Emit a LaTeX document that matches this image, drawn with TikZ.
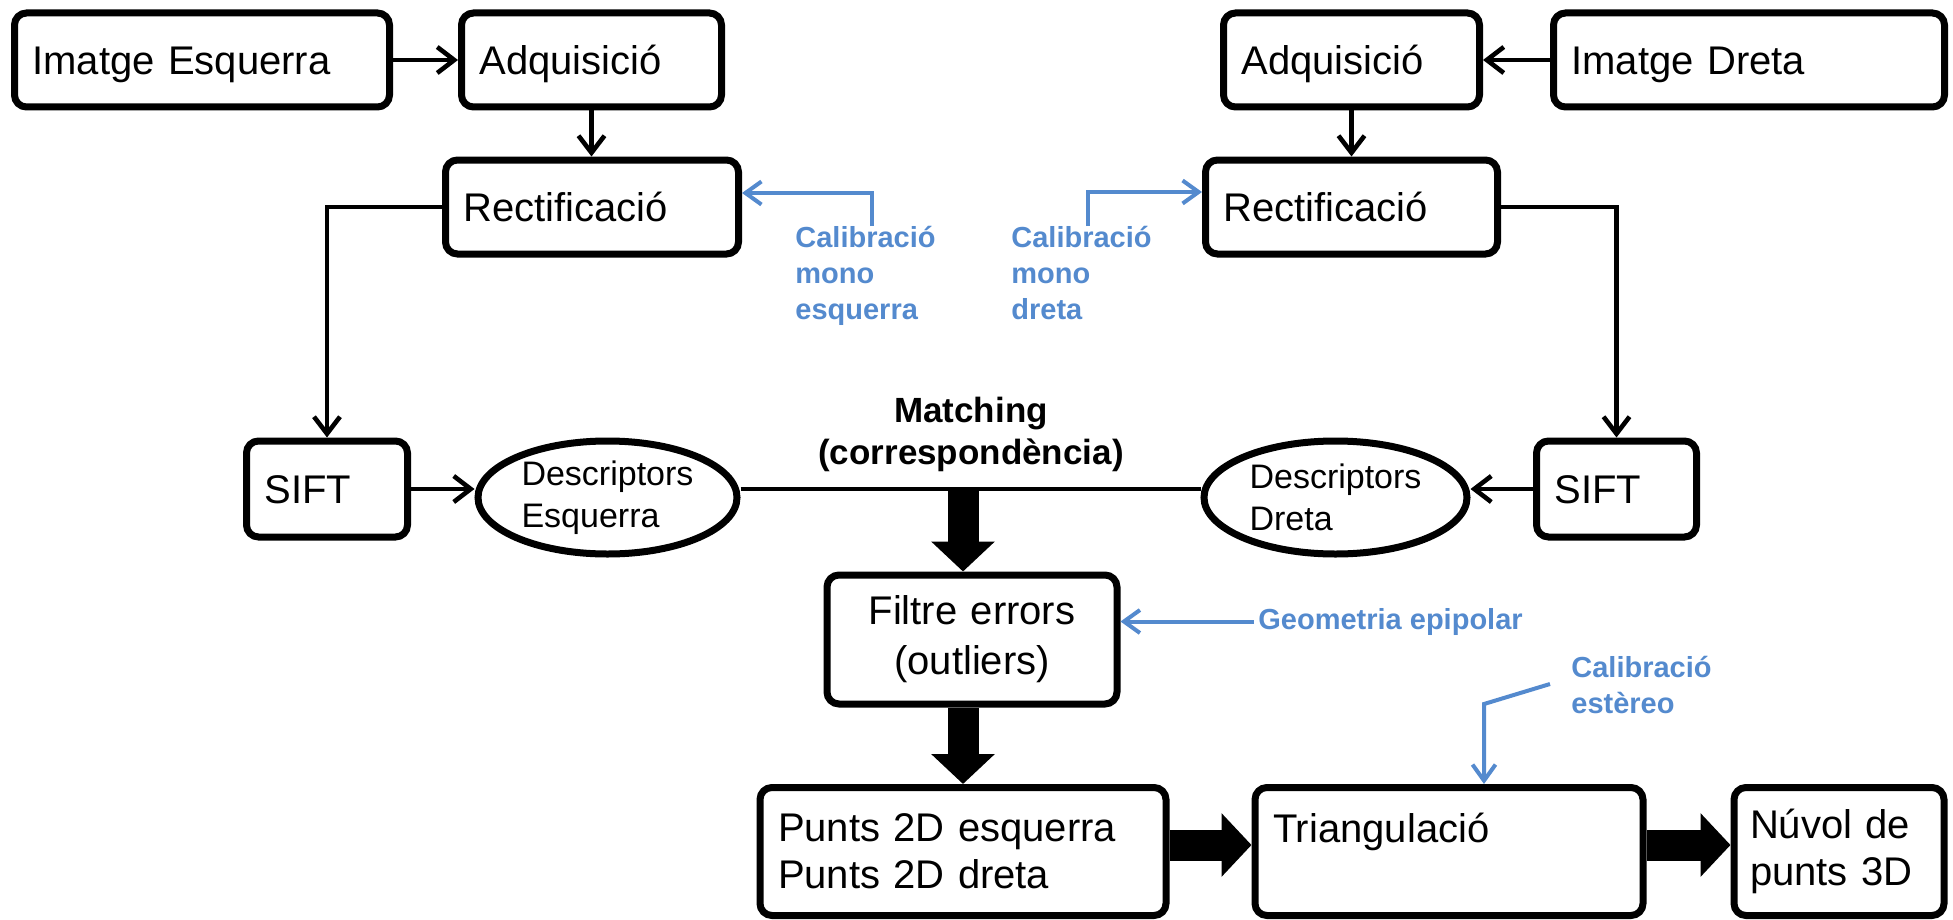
\documentclass[tikz,border=0pt]{standalone}
\usepackage{fontspec}
\setmainfont{Liberation Sans}
\usetikzlibrary{arrows.meta,shapes.geometric}
\definecolor{calblue}{RGB}{84,138,206}
\begin{document}
\begin{tikzpicture}[x=0.5pt,y=-0.5pt,
  box/.style={draw, line width=3.5pt, rounded corners=6pt, inner xsep=9pt, inner ysep=0pt, align=left, font=\fontsize{20}{24}\selectfont},
  one/.style={text height=14.4pt, text depth=0pt},
  ell/.style={draw, ellipse, line width=3.5pt, inner sep=0pt, align=left, font=\fontsize{17}{21}\selectfont},
  conn/.style={draw, line width=2.3pt, -{Straight Barb[length=8.5pt,width=13pt]}},
  bconn/.style={draw=calblue, line width=2pt, -{Straight Barb[length=8pt,width=11.5pt]}},
  fat/.style={draw, line width=15.5pt, -{Triangle[length=15pt,width=31pt]}},
  btext/.style={text=calblue, font=\fontsize{14.5}{18}\bfseries, align=left, inner sep=0pt},
]
\useasboundingbox (0,0) rectangle (1953,920);

% boxes
\node[box, one, minimum height=47pt, text width=169.5pt] (imgL) at (202,60) {Imatge Esquerra};
\node[box, one, minimum height=47pt, text width=112pt] (adqL) at (591.5,60) {Adquisició};
\node[box, one, minimum height=47pt, text width=128.5pt] (recL) at (592,207) {Rectificació};
\node[box, one, minimum height=48pt, text width=62.5pt] (siftL) at (327,489) {SIFT};
\node[ell, minimum width=129.5pt, minimum height=56.5pt] (ellL) at (607.5,497.5) {Descriptors\\Esquerra};
\node[ell, minimum width=131.5pt, minimum height=56.5pt] (ellR) at (1335.5,497.5) {Descriptors\\Dreta};
\node[box, one, minimum height=48pt, text width=62pt] (siftR) at (1616.5,489) {SIFT};
\node[box, one, minimum height=47pt, text width=128pt] (recR) at (1351.5,207) {Rectificació};
\node[box, one, minimum height=47pt, text width=110pt] (adqR) at (1351.5,60) {Adquisició};
\node[box, one, minimum height=47pt, text width=177.5pt] (imgR) at (1749,60) {Imatge Dreta};
\node[box, align=center, font=\fontsize{20}{25}\selectfont, minimum height=64.5pt, text width=127pt] (filt) at (972,639.5) {Filtre errors\\(outliers)};
\node[box, font=\fontsize{20}{23.5}\selectfont, minimum height=64pt, text width=185pt] (punts) at (963,851.5) {Punts 2D esquerra\\Punts 2D dreta};
\node[box, font=\fontsize{20}{23.5}\selectfont, minimum height=64pt, text width=176pt] (tri) at (1449,851.5) {Triangulació\\\mbox{}};
\node[box, font=\fontsize{20}{23.5}\selectfont, minimum height=64pt, text width=89pt, inner xsep=8pt] (nuv) at (1839,851.5) {Núvol de\\punts 3D};

% labels
\node[font=\fontsize{17.5}{21}\bfseries, align=center, anchor=north, inner sep=0pt] (match) at (971,397) {Matching\\(correspondència)};
\node[btext, anchor=north west] (calL) at (795,226) {Calibració\\mono\\esquerra};
\node[btext, anchor=north west] (calR) at (1011,226) {Calibració\\mono\\dreta};
\node[btext, anchor=base west, inner xsep=2pt] (geo) at (1254,629) {Geometria epipolar};
\node[btext, anchor=north west] (calS) at (1571,656) {Calibració\\estèreo};

% black connectors
\draw[conn] (imgL) -- (adqL);
\draw[conn] (imgR) -- (adqR);
\draw[conn] (adqL.south) -- (adqL.south |- recL.north);
\draw[conn] (adqR.south) -- (adqR.south |- recR.north);
\draw[conn] (recL.west) -| (siftL.north);
\draw[conn] (recR.east) -| (siftR.north);
\draw[conn] (siftL.east) -- (siftL.east -| ellL.west);
\draw[conn] (siftR.west) -- (siftR.west -| ellR.east);
\draw[line width=2.3pt] (siftL.east -| ellL.east) -- (siftL.east -| ellR.west);

% fat arrows
\draw[fat] (punts.north |- siftL.east) -- (punts.north |- filt.north);
\draw[fat] (punts.north |- filt.south) -- (punts.north);
\draw[fat] ([yshift=3.25pt]punts.east) -- ([yshift=3.25pt]tri.west);
\draw[fat] ([yshift=3.25pt]tri.east) -- ([yshift=3.25pt]nuv.west);

% blue connectors
\coordinate (kL) at (872,193);
\coordinate (kR) at (1088,192);
\draw[bconn] (calL.north -| kL) -- (kL) -- (kL -| recL.east);
\draw[bconn] (calR.north -| kR) -- (kR) -- (kR -| recR.west);
\draw[bconn] (geo.west) -- (geo.west -| filt.east);
\coordinate (e1) at (1550,684);
\coordinate (e2) at (1484,704);
\draw[bconn] (e1) -- (e2) -- (e2 |- tri.north);
\end{tikzpicture}
\end{document}
